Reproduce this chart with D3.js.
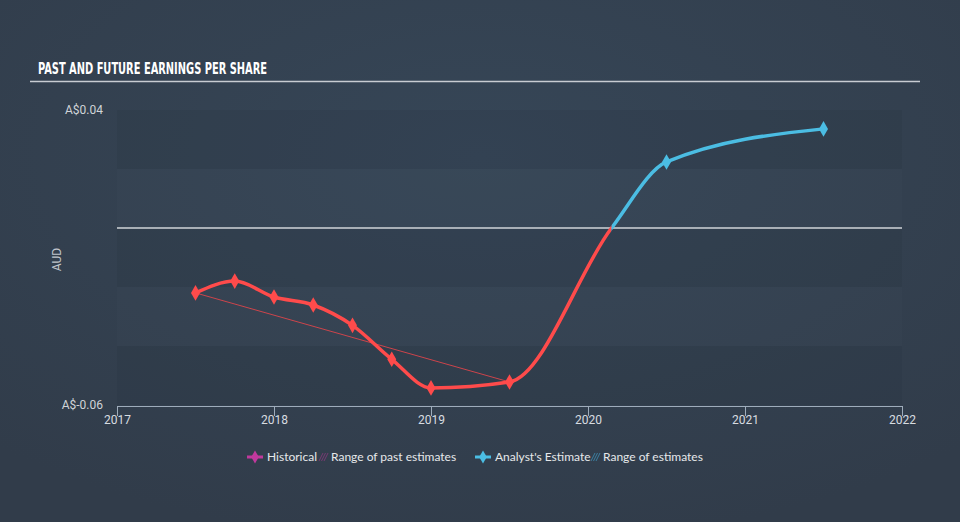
<!DOCTYPE html>
<html><head><meta charset="utf-8">
<script src="https://cdn.jsdelivr.net/npm/d3@7"></script>
<style>
html,body{margin:0;padding:0;background:#344151;}
svg{display:block;}
</style></head>
<body>
<svg id="c" width="960" height="522"></svg>
<script>
// Data
const pastDates = [2017.5, 2017.75, 2018.0, 2018.25, 2018.5, 2018.75, 2019.0, 2019.5, 2020.15];
const pastEPS   = [-0.022, -0.018, -0.0234, -0.0261, -0.033, -0.0445, -0.0542, -0.0522, 0.0];
const pastMarked = [true, true, true, true, true, true, true, true, false];
const futureDates = [2020.15, 2020.5, 2021.5];
const futureEPS   = [0.0, 0.0224, 0.0336];
const futureMarked = [false, true, true];
const pastRangeDates = [2017.5, 2019.5];
const pastRangeEPS = [-0.022, -0.0522];
const xTicks = [2017, 2018, 2019, 2020, 2021, 2022];
const yTickLabels = ["A$0.04", "A$-0.06"];
const yTickValues = [0.04, -0.06];
const bandEdges = [0.04, 0.02, 0, -0.02, -0.04, -0.06];
const legendItems = ["Historical", "Range of past estimates", "Analyst's Estimate", "Range of estimates"];

const svg = d3.select("#c");
const W = 960, H = 522;
const defs = svg.append("defs");
const rg = defs.append("radialGradient").attr("id","bg").attr("cx","50%").attr("cy","30%").attr("r","75%");
rg.append("stop").attr("offset","0%").attr("stop-color","#364657");
rg.append("stop").attr("offset","100%").attr("stop-color","#313c4a");
svg.append("rect").attr("width",W).attr("height",H).attr("fill","url(#bg)");

const x = d3.scaleLinear().domain([2017, 2022]).range([117, 902]);
const y = d3.scaleLinear().domain([-0.06, 0.04]).range([405, 110]);

// Title
svg.append("text").attr("x",38).attr("y",74)
  .attr("font-family","'DejaVu Sans Condensed','Liberation Sans Narrow',sans-serif")
  .attr("font-weight","bold").attr("font-size",16).attr("fill","#ffffff")
  .attr("textLength",229).attr("lengthAdjust","spacingAndGlyphs")
  .text("PAST AND FUTURE EARNINGS PER SHARE");
svg.append("line").attr("x1",30).attr("x2",920).attr("y1",81.5).attr("y2",81.5)
  .attr("stroke","#c8ccd2").attr("stroke-width",1.5);

// Bands
for (let i = 0; i < bandEdges.length - 1; i++) {
  svg.append("rect").attr("x",x(2017)).attr("width",x(2022)-x(2017))
    .attr("y",y(bandEdges[i])).attr("height",y(bandEdges[i+1])-y(bandEdges[i]))
    .attr("fill", i % 2 === 0 ? "rgba(20,30,40,0.09)" : "rgba(255,255,255,0.012)");
}

// Zero line
svg.append("line").attr("x1",x(2017)).attr("x2",x(2022)).attr("y1",y(0)).attr("y2",y(0))
  .attr("stroke","#d0d4d8").attr("stroke-width",1.5);

// Y labels
yTickValues.forEach((v,i)=>{
  svg.append("text").attr("x",103).attr("y",y(v)+4).attr("text-anchor","end")
    .attr("font-family","Roboto,'Open Sans',sans-serif").attr("font-size",12).attr("fill","#d0d4d8")
    .text(yTickLabels[i]);
});
svg.append("text").attr("transform",`translate(61,${(y(0.04)+y(-0.06))/2 + 2}) rotate(-90)`)
  .attr("text-anchor","middle").attr("font-family","Roboto,'Open Sans',sans-serif")
  .attr("font-size",12).attr("fill","#c0c5cc").text("AUD");

// X axis
const xAxis = d3.axisBottom(x).tickValues(xTicks).tickFormat(d3.format("d")).tickSize(10).tickSizeOuter(0);
const gx = svg.append("g").attr("transform",`translate(0,${406})`).call(xAxis);
gx.select(".domain").attr("stroke","#9eacbb").attr("stroke-width",1.2);
gx.selectAll(".tick line").attr("stroke","#9eacbb").attr("stroke-width",1);
gx.selectAll(".tick text").attr("fill","#d8dce0").attr("font-size",12)
  .attr("font-family","Roboto,'Open Sans',sans-serif").attr("y",9).attr("dy","0.71em");

// Past estimate range line
svg.append("line")
  .attr("x1",x(pastRangeDates[0])).attr("y1",y(pastRangeEPS[0]))
  .attr("x2",x(pastRangeDates[1])).attr("y2",y(pastRangeEPS[1]))
  .attr("stroke","#e8464b").attr("stroke-width",1).attr("opacity",0.85);

// Lines
const allDates = pastDates.concat(futureDates.slice(1));
const allEPS = pastEPS.concat(futureEPS.slice(1));
const pts = allDates.map((d,i)=>[x(d), y(allEPS[i])]);
const lineGen = d3.line().curve(d3.curveMonotoneX);
const splitX = x(pastDates[pastDates.length-1]);
defs.append("clipPath").attr("id","clipPast").append("rect").attr("x",0).attr("y",0).attr("width",splitX).attr("height",H);
defs.append("clipPath").attr("id","clipFut").append("rect").attr("x",splitX).attr("y",0).attr("width",W-splitX).attr("height",H);

svg.append("path").attr("d",lineGen(pts)).attr("fill","none").attr("stroke","#ff4b4b")
  .attr("stroke-width",3.5).attr("clip-path","url(#clipPast)").attr("stroke-linejoin","round");
svg.append("path").attr("d",lineGen(pts)).attr("fill","none").attr("stroke","#4bbde3")
  .attr("stroke-width",3.5).attr("clip-path","url(#clipFut)").attr("stroke-linejoin","round");

const diamond = d3.symbol().type(d3.symbolDiamond).size(70);
pastDates.forEach((d,i)=>{ if(pastMarked[i]) svg.append("path").attr("d",diamond())
  .attr("transform",`translate(${x(d)},${y(pastEPS[i])})`).attr("fill","#ff4b4b"); });
futureDates.forEach((d,i)=>{ if(futureMarked[i]) svg.append("path").attr("d",diamond())
  .attr("transform",`translate(${x(d)},${y(futureEPS[i])})`).attr("fill","#4bbde3"); });

// Legend
const lg = svg.append("g").attr("font-family","Lato,'Open Sans',sans-serif").attr("font-size",12).attr("fill","#e6e8ea");
function legDiamond(cx, color){
  lg.append("path").attr("d",d3.symbol().type(d3.symbolDiamond).size(50)()).attr("transform",`translate(${cx},457)`).attr("fill",color);
  lg.append("line").attr("x1",cx-8).attr("x2",cx+8).attr("y1",457).attr("y2",457).attr("stroke",color).attr("stroke-width",3);
}
function hatch(x0, color){
  for(let k=0;k<3;k++){
    lg.append("line").attr("x1",x0+k*2.5).attr("y1",461).attr("x2",x0+k*2.5+4).attr("y2",453)
      .attr("stroke",color).attr("stroke-width",1).attr("opacity",0.8);
  }
}
legDiamond(255,"#c0399d");
lg.append("text").attr("x",267).attr("y",461).text(legendItems[0]);
hatch(319,"#8a3a7e");
lg.append("text").attr("x",331).attr("y",461).text(legendItems[1]);
legDiamond(483,"#4bbde3");
lg.append("text").attr("x",495).attr("y",461).text(legendItems[2]);
hatch(591,"#3f8fb5");
lg.append("text").attr("x",603).attr("y",461).text(legendItems[3]);
</script>
</body></html>
